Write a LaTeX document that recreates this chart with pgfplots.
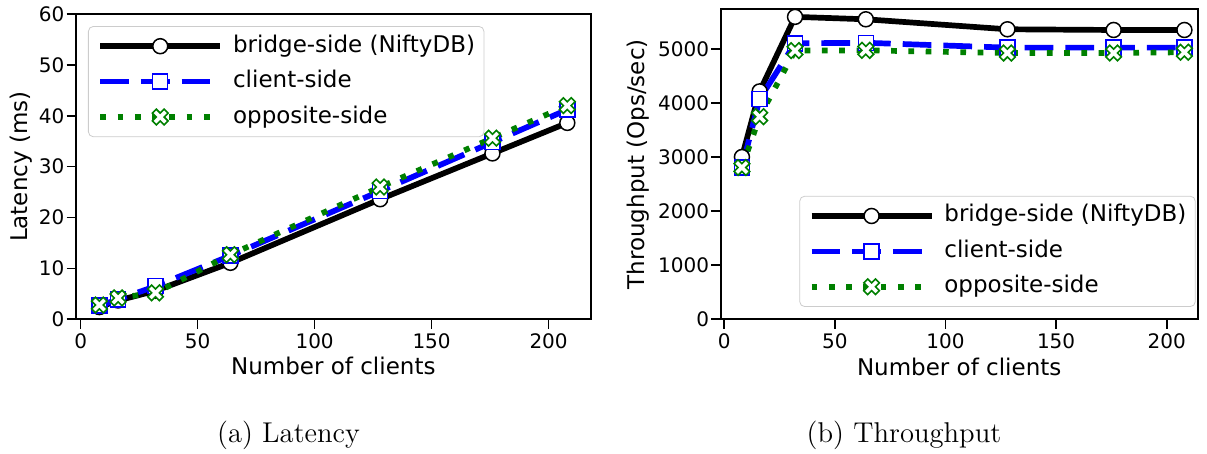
\documentclass[border=0pt]{standalone}
\usepackage{fontspec}
\usepackage{pgfplots}
\usepackage{pgfplotstable}
\pgfplotsset{compat=1.18}
\newfontfamily\dejavu{DejaVu Sans}
\definecolor{mgreen}{RGB}{0,128,0}

\pgfdeclareplotmark{Xf}{%
  \pgftransformrotate{45}%
  \pgfpathmoveto{\pgfqpoint{0.353\pgfplotmarksize}{0.353\pgfplotmarksize}}%
  \pgfpathlineto{\pgfqpoint{0.353\pgfplotmarksize}{1.06\pgfplotmarksize}}%
  \pgfpathlineto{\pgfqpoint{-0.353\pgfplotmarksize}{1.06\pgfplotmarksize}}%
  \pgfpathlineto{\pgfqpoint{-0.353\pgfplotmarksize}{0.353\pgfplotmarksize}}%
  \pgfpathlineto{\pgfqpoint{-1.06\pgfplotmarksize}{0.353\pgfplotmarksize}}%
  \pgfpathlineto{\pgfqpoint{-1.06\pgfplotmarksize}{-0.353\pgfplotmarksize}}%
  \pgfpathlineto{\pgfqpoint{-0.353\pgfplotmarksize}{-0.353\pgfplotmarksize}}%
  \pgfpathlineto{\pgfqpoint{-0.353\pgfplotmarksize}{-1.06\pgfplotmarksize}}%
  \pgfpathlineto{\pgfqpoint{0.353\pgfplotmarksize}{-1.06\pgfplotmarksize}}%
  \pgfpathlineto{\pgfqpoint{0.353\pgfplotmarksize}{-0.353\pgfplotmarksize}}%
  \pgfpathlineto{\pgfqpoint{1.06\pgfplotmarksize}{-0.353\pgfplotmarksize}}%
  \pgfpathlineto{\pgfqpoint{1.06\pgfplotmarksize}{0.353\pgfplotmarksize}}%
  \pgfpathclose
  \pgfusepathqfillstroke
}

\pgfplotstableread{
x   bridge client opposite
8   2.4    2.7    2.8
16  3.7    3.9    4.2
32  5.6    6.5    5.2
64  11.1   12.5   12.7
128 23.6   25.2   26.0
176 32.6   34.8   35.6
208 38.6   41.2   42.0
}\latency

\pgfplotstableread{
x   bridge client opposite
8   3005   2815   2810
16  4220   4080   3752
32  5600   5110   4975
64  5555   5120   4980
128 5370   5030   4930
176 5357   5030   4930
208 5357   5030   4945
}\throughput

\pgfplotsset{
  mystyle/.style={
    scale only axis,
    anchor=south west,
    tick align=outside, tick pos=left,
    major tick length=4.65pt,
    axis line style={line width=0.8pt, black},
    every tick/.style={black, line width=0.8pt},
    ticklabel style={font=\dejavu\fontsize{10}{12}\selectfont},
    xticklabel style={inner ysep=2.2pt},
    yticklabel style={inner xsep=1pt},
    /pgf/number format/assume math mode=true,
    /pgf/number format/1000 sep={},
    label style={font=\dejavu\fontsize{11.5}{13.8}\selectfont},
    xlabel={Number of clients},
    clip=false,
    legend cell align=left,
    legend style={draw=black!20, rounded corners=2.5pt, fill=white,
      font=\dejavu\fontsize{11.5}{14}\selectfont, inner xsep=4.5pt, inner ysep=4.3pt,
      column sep=5pt, row sep=6.5pt,
      nodes={inner sep=0pt, text height=8.6pt, text depth=2.6pt}},
    legend image code/.code={\draw[mark repeat=2,mark phase=2,##1] plot coordinates {(0pt,0pt) (30pt,0pt) (60pt,0pt)};},
  },
  sbridge/.style={black, line width=2.85pt, mark=*, mark size=3.75pt, mark options={solid, fill=white, draw=black, line width=0.75pt}},
  sclient/.style={blue, line width=2.85pt, dash pattern=on 14.35pt off 6pt, mark=square*, mark size=3.75pt, mark options={solid, fill=white, draw=blue, line width=0.75pt}},
  sopp/.style={mgreen, line width=2.85pt, dash pattern=on 2.85pt off 5.8pt, mark=Xf, mark size=3.9pt, mark options={solid, fill=white, draw=mgreen, line width=0.8pt}},
}

\begin{document}
\begin{tikzpicture}
\useasboundingbox (0,0) rectangle (603.5pt,-227pt);
\begin{axis}[mystyle,
  at={(38pt,-159.65pt)}, width=257.35pt, height=152.65pt,
  xmin=-2, xmax=218, ymin=0, ymax=60,
  xtick={0,50,100,150,200}, ytick={0,10,20,30,40,50,60},
  ylabel={Latency (ms)},
  ylabel style={at={(axis description cs:-0.0933,0.5)}, anchor=base},
  xlabel style={at={(axis description cs:0.5,-0.1824)}, anchor=base},
  legend style={at={(0.0233,0.9607)}, anchor=north west},
]
\addplot[sbridge] table[x=x,y=bridge] {\latency};
\addlegendentry{bridge-side (NiftyDB)}
\addplot[sclient] table[x=x,y=client] {\latency};
\addlegendentry{client-side}
\addplot[sopp] table[x=x,y=opposite] {\latency};
\addlegendentry{opposite-side}
\end{axis}

\begin{axis}[mystyle,
  at={(360.35pt,-159.65pt)}, width=238.5pt, height=155pt,
  xmin=-1.6, xmax=214, ymin=0, ymax=5740,
  xtick={0,50,100,150,200}, ytick={0,1000,2000,3000,4000,5000},
  ylabel={Throughput (Ops/sec)},
  ylabel style={at={(axis description cs:-0.1597,0.5)}, anchor=base},
  xlabel style={at={(axis description cs:0.5,-0.1797)}, anchor=base},
  legend style={at={(0.9958,0.0397)}, anchor=south east},
]
\addplot[sbridge] table[x=x,y=bridge] {\throughput};
\addlegendentry{bridge-side (NiftyDB)}
\addplot[sclient] table[x=x,y=client] {\throughput};
\addlegendentry{client-side}
\addplot[sopp] table[x=x,y=opposite] {\throughput};
\addlegendentry{opposite-side}
\end{axis}

\node[anchor=base, font=\fontsize{14.3}{17}\selectfont] at (144.25pt,-221.5pt) {(a) Latency};
\node[anchor=base, font=\fontsize{14.3}{17}\selectfont] at (452pt,-221.5pt) {(b) Throughput};
\end{tikzpicture}
\end{document}
